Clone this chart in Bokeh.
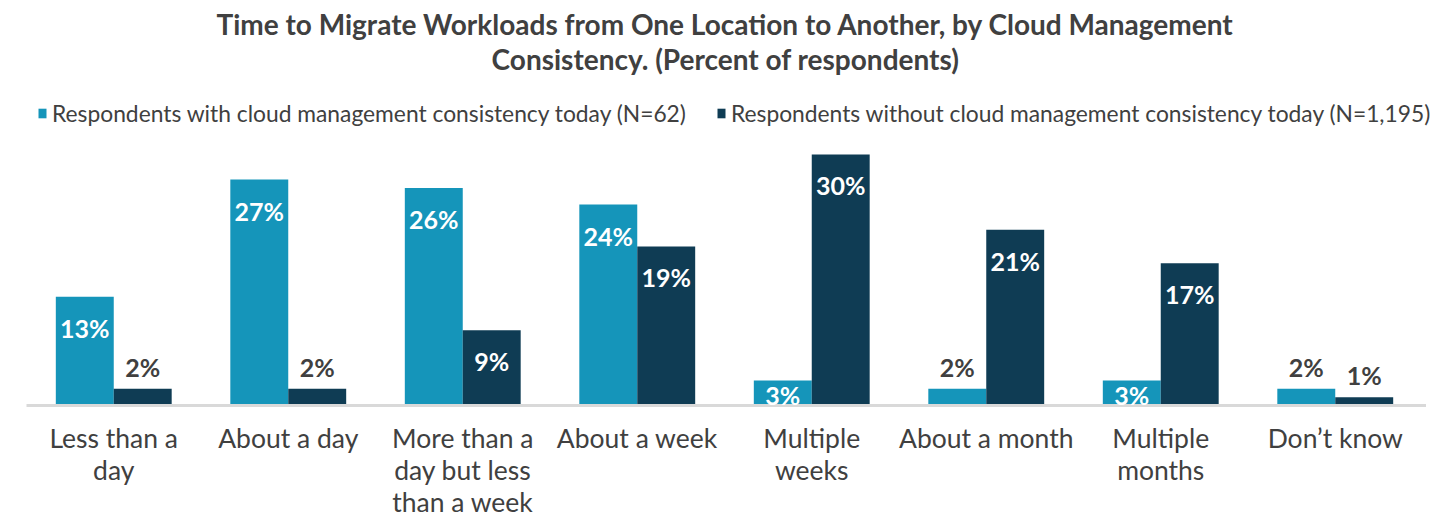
from bokeh.plotting import figure
from bokeh.models import ColumnDataSource, FactorRange, Range1d, Legend, LegendItem, Label
from bokeh.transform import dodge
from bokeh.core.properties import value
from bokeh.embed import file_html
from bokeh.resources import INLINE

# ---- data ----
categories = ["Less than a day", "About a day", "More than a day but less than a week",
              "About a week", "Multiple weeks", "About a month", "Multiple months", "Don\u2019t know"]
tick_labels = ["Less than a\nday", "About a day", "More than a\nday but less\nthan a week",
               "About a week", "Multiple\nweeks", "About a month", "Multiple\nmonths", "Don\u2019t know"]
with_consistency = [13, 27, 26, 24, 3, 2, 3, 2]
without_consistency = [2, 2, 9, 19, 30, 21, 17, 1]
series_names = ["Respondents with cloud management consistency today (N=62)",
                "Respondents without cloud management consistency today (N=1,195)"]
title_lines = ["Time to Migrate Workloads from One Location to Another, by Cloud Management",
               "Consistency. (Percent of respondents)"]

# ---- style ----
LIGHT = "#1595BA"
DARK = "#0F3C54"
GRAY = "#404040"
FONT = "Lato"
PX_PER_PCT = 8.37

W, H = 1434, 516
frame_left = 14
baseline = 405
pad = 12 / 174.5

p = figure(width=W, height=H, output_backend="svg", toolbar_location=None,
           x_range=FactorRange(*categories, range_padding=pad, range_padding_units="absolute"),
           y_range=Range1d(-(H - baseline) / PX_PER_PCT, baseline / PX_PER_PCT),
           min_border_left=frame_left, min_border_right=0,
           min_border_top=0, min_border_bottom=0)
p.outline_line_color = None
p.xgrid.visible = False
p.ygrid.visible = False
p.xaxis.visible = False
p.yaxis.visible = False
p.background_fill_color = "white"
p.border_fill_color = "white"

src = ColumnDataSource(dict(cat=categories, w=with_consistency, wo=without_consistency))

bw = 0.332
r1 = p.vbar(x=dodge("cat", -bw / 2, range=p.x_range), top="w", width=bw, bottom=0,
            source=src, fill_color=LIGHT, line_color=None)
r2 = p.vbar(x=dodge("cat", bw / 2, range=p.x_range), top="wo", width=bw, bottom=0,
            source=src, fill_color=DARK, line_color=None)

# baseline (category axis line)
base_src = ColumnDataSource(dict(a=[categories[0]], b=[categories[-1]], y=[0]))
p.segment(x0=dodge("a", -0.5, range=p.x_range), x1=dodge("b", 0.52, range=p.x_range),
          y0="y", y1="y", source=base_src, line_color="#D9D9D9", line_width=3)

# value labels
def add_labels(vals, off):
    ins = dict(cat=[], v=[], t=[], yo=[])
    out = dict(cat=[], v=[], t=[])
    for c, v in zip(categories, vals):
        if v >= 3:
            ins["cat"].append(c); ins["v"].append(v); ins["t"].append(f"{v}%")
            ins["yo"].append(min(31, v * PX_PER_PCT - 11))
        else:
            out["cat"].append(c); out["v"].append(v); out["t"].append(f"{v}%")
    p.text(x=dodge("cat", off, range=p.x_range), y="v", text="t", source=ColumnDataSource(ins),
           y_offset="yo", text_align="center", text_baseline="middle",
           text_color="white", text_font=value(FONT), text_font_style="bold",
           text_font_size="25px")
    p.text(x=dodge("cat", off, range=p.x_range), y="v", text="t", source=ColumnDataSource(out),
           y_offset=-22, text_align="center", text_baseline="middle",
           text_color=GRAY, text_font=value(FONT), text_font_style="bold",
           text_font_size="25px")

add_labels(with_consistency, -bw / 2)
add_labels(without_consistency, bw / 2)

# category labels
cat_src = ColumnDataSource(dict(cat=categories, lab=tick_labels, y=[0] * len(categories)))
p.text(x="cat", y="y", text="lab", source=cat_src, y_offset=16,
       text_align="center", text_baseline="top", text_line_height=1.0,
       text_color=GRAY, text_font=value(FONT), text_font_size="26.5px")

# title lines
center_x = 725 - frame_left
for txt, ypage in zip(title_lines, [23, 58]):
    p.add_layout(Label(x=center_x, x_units="screen",
                       y=(baseline - ypage) / PX_PER_PCT, y_units="data",
                       text=txt, text_align="center", text_baseline="middle",
                       text_font=FONT, text_font_style="bold", text_font_size="28px",
                       text_color=GRAY))

# legend
legend = Legend(items=[LegendItem(label=series_names[0], renderers=[r1]),
                       LegendItem(label=series_names[1], renderers=[r2])],
                orientation="horizontal", location=(37 - frame_left, 389),
                glyph_width=10, glyph_height=12, label_standoff=5, spacing=30,
                padding=0, margin=0, border_line_color=None, background_fill_alpha=0,
                label_text_font=FONT, label_text_font_size="22.8px", label_text_color=GRAY)
p.add_layout(legend)

open("out.html", "w").write(file_html(p, INLINE))
